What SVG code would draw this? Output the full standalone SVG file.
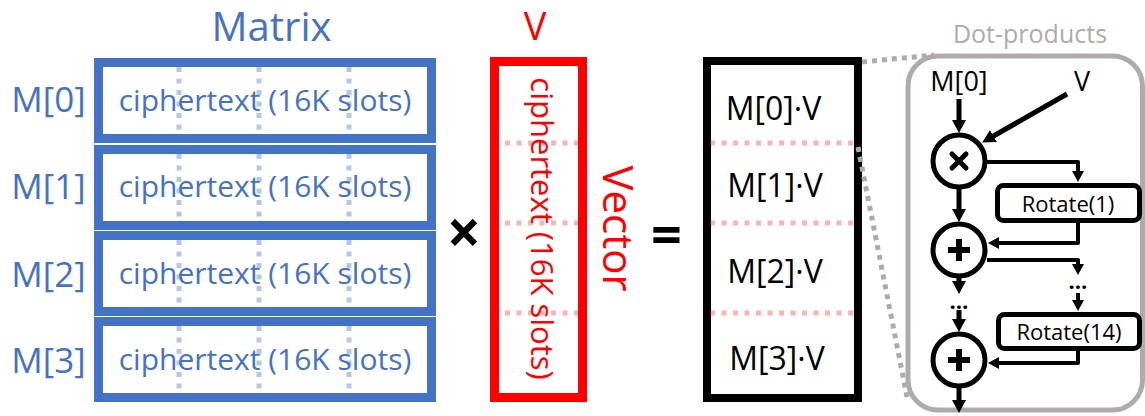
<svg xmlns="http://www.w3.org/2000/svg" width="1145" height="416" viewBox="0 0 1145 416">
  <style>
    text { font-family: "Open Sans", "Liberation Sans", sans-serif; }
    .blue { fill: #4472C4; }
    .red { fill: #FF0000; }
    .blk { fill: #000000; }
    .grey { fill: #AFABAB; }
    .row { fill: #FFFFFF; stroke: #4472C4; stroke-width: 9; }
    .slotv { stroke: #B4C7E7; stroke-width: 5; stroke-dasharray: 5 6.5; fill: none; }
    .sloth { stroke: #FF0000; stroke-opacity: 0.3; stroke-width: 5; stroke-dasharray: 5 6.5; fill: none; }
    .zoom { stroke: #AFABAB; stroke-width: 5; stroke-dasharray: 5 5; fill: none; }
    .flow { stroke: #000000; stroke-width: 5; fill: none; }
    .flow2 { stroke: #000000; stroke-width: 4; fill: none; stroke-linejoin: round; }
    .op { fill: #FFFFFF; stroke: #000000; stroke-width: 5; }
    .box { fill: #FFFFFF; stroke: #000000; stroke-width: 5; }
  </style>
  <defs>
    <marker id="arrow" markerUnits="userSpaceOnUse" markerWidth="16" markerHeight="16" refX="4" refY="7" orient="auto">
      <path d="M0,0 L13,7 L0,14 z" fill="#000000"/>
    </marker>
    <marker id="arrowS" markerUnits="userSpaceOnUse" markerWidth="14" markerHeight="14" refX="4" refY="6" orient="auto">
      <path d="M0,0 L11,6 L0,12 z" fill="#000000"/>
    </marker>
  </defs>

  <!-- Matrix block -->
  <g id="matrix">
    <text class="blue" x="271.5" y="41" font-size="40" text-anchor="middle">Matrix</text>
    <g id="row0">
      <rect class="row" x="98.5" y="62.5" width="333" height="76"/>
      <path class="slotv" d="M179,67 V134 M259,67 V134 M349,67 V134"/>
      <text class="blue" x="265" y="111" font-size="30" text-anchor="middle">ciphertext (16K slots)</text>
      <text class="blue" x="48.5" y="112" font-size="35" text-anchor="middle">M[0]</text>
    </g>
    <g id="row1">
      <rect class="row" x="98.5" y="149.5" width="333" height="76"/>
      <path class="slotv" d="M179,154 V221 M259,154 V221 M349,154 V221"/>
      <text class="blue" x="265" y="197" font-size="30" text-anchor="middle">ciphertext (16K slots)</text>
      <text class="blue" x="48.5" y="199" font-size="35" text-anchor="middle">M[1]</text>
    </g>
    <g id="row2">
      <rect class="row" x="98.5" y="235.5" width="333" height="76"/>
      <path class="slotv" d="M179,240 V307 M259,240 V307 M349,240 V307"/>
      <text class="blue" x="265" y="284" font-size="30" text-anchor="middle">ciphertext (16K slots)</text>
      <text class="blue" x="48.5" y="287" font-size="35" text-anchor="middle">M[2]</text>
    </g>
    <g id="row3">
      <rect class="row" x="98.5" y="321.5" width="333" height="76"/>
      <path class="slotv" d="M179,326 V393 M259,326 V393 M349,326 V393"/>
      <text class="blue" x="265" y="370" font-size="30" text-anchor="middle">ciphertext (16K slots)</text>
      <text class="blue" x="48.5" y="373" font-size="35" text-anchor="middle">M[3]</text>
    </g>
  </g>

  <!-- multiply sign -->
  <text id="times" class="blk" x="464" y="254" font-size="60" font-weight="bold" text-anchor="middle">×</text>

  <!-- Vector block -->
  <g id="vector">
    <text class="red" x="535" y="40" font-size="38" text-anchor="middle">V</text>
    <rect x="494.5" y="61.5" width="88" height="336" fill="#FFFFFF" stroke="#FF0000" stroke-width="9"/>
    <path class="sloth" d="M505,143 H578 M505,223 H578 M505,313 H578"/>
    <text class="red" transform="translate(531,228.5) rotate(90)" font-size="31" text-anchor="middle">ciphertext (16K slots)</text>
    <text class="red" transform="translate(603,228.5) rotate(90)" font-size="42" text-anchor="middle">Vector</text>
  </g>

  <!-- equals sign -->
  <text id="equals" class="blk" x="666.5" y="254" font-size="54" font-weight="bold" text-anchor="middle">=</text>

  <!-- Result block -->
  <g id="result">
    <rect x="707" y="61" width="151" height="337" fill="#FFFFFF" stroke="#000000" stroke-width="8"/>
    <path class="sloth" d="M710,143 H858 M710,223 H858 M710,313 H858"/>
    <text class="blk" x="773.5" y="120" font-size="32" text-anchor="middle">M[0]·V</text>
    <text class="blk" x="775" y="197" font-size="32" text-anchor="middle">M[1]·V</text>
    <text class="blk" x="775" y="283" font-size="32" text-anchor="middle">M[2]·V</text>
    <text class="blk" x="777" y="370" font-size="32" text-anchor="middle">M[3]·V</text>
  </g>

  <!-- Dot-products detail panel -->
  <g id="dot-products">
    <text class="grey" x="1030" y="43" font-size="25" text-anchor="middle">Dot-products</text>
    <rect x="908" y="56" width="234.5" height="354" rx="30" ry="30" fill="none" stroke="#AFABAB" stroke-width="5"/>
    <text class="blk" x="959" y="91" font-size="27" text-anchor="middle">M[0]</text>
    <text class="blk" x="1082" y="91" font-size="27" text-anchor="middle">V</text>
  </g>

  <g id="mul">
    <circle class="op" cx="959" cy="161" r="26"/>
    <path d="M952,154 L966,168 M966,154 L952,168" stroke="#000000" stroke-width="5" stroke-linecap="round"/>
  </g>
  <g id="add1">
    <circle class="op" cx="959" cy="250" r="26"/>
    <path d="M948,250 H970 M959,239 V261" stroke="#000000" stroke-width="6"/>
  </g>
  <g id="add2">
    <circle class="op" cx="959" cy="360" r="26"/>
    <path d="M948,360 H970 M959,349 V371" stroke="#000000" stroke-width="6"/>
  </g>
  <g id="rot1">
    <rect class="box" x="997.5" y="185.5" width="142" height="35" rx="6" ry="6"/>
    <text class="blk" x="1068" y="212" font-size="22" text-anchor="middle">Rotate(1)</text>
  </g>
  <g id="rot14">
    <rect class="box" x="998.5" y="314.5" width="141" height="34" rx="6" ry="6"/>
    <text class="blk" x="1069" y="340" font-size="22" text-anchor="middle">Rotate(14)</text>
  </g>

  <!-- connectors -->
  <g id="connectors">
    <path class="zoom" d="M862,62 L934,55"/>
    <path class="zoom" d="M858,147 L907,397"/>
    <path class="flow" d="M959,99 V124" marker-end="url(#arrow)"/>
    <path class="flow" d="M1067,94 L990,138" marker-end="url(#arrow)"/>
    <path class="flow" d="M959,189 V213" marker-end="url(#arrow)"/>
    <path class="flow" d="M959,278 V285" marker-end="url(#arrow)"/>
    <path class="flow" d="M959,310 V323" marker-end="url(#arrow)"/>
    <path class="flow" d="M959,388 V404" marker-end="url(#arrow)"/>
    <path class="flow2" d="M987,162 H1078 V175" marker-end="url(#arrowS)"/>
    <path class="flow2" d="M1078,223 V243 H995" marker-end="url(#arrowS)"/>
    <path class="flow2" d="M987,260 H1078 V268" marker-end="url(#arrowS)"/>
    <path class="flow2" d="M1078,293 V304" marker-end="url(#arrowS)"/>
    <path class="flow2" d="M1078,351 V363 H995" marker-end="url(#arrowS)"/>
    <text class="blk" x="959" y="309" font-size="22" font-weight="bold" text-anchor="middle">…</text>
    <text class="blk" x="1078" y="289" font-size="22" font-weight="bold" text-anchor="middle">…</text>
  </g>
</svg>
